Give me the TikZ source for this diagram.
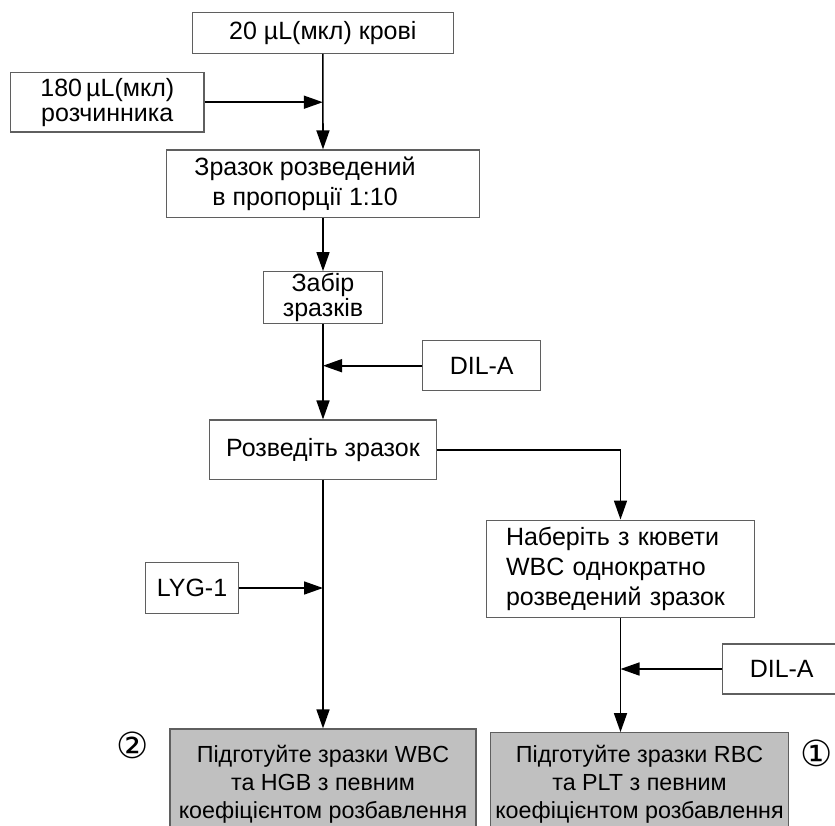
\documentclass[tikz,border=0pt]{standalone}
\usepackage{fontspec}
\setmainfont{Liberation Sans}
\newfontfamily\circfont{DejaVu Sans}
\usetikzlibrary{arrows.meta,calc}
\definecolor{ink}{RGB}{0,0,0}
\definecolor{edge}{RGB}{95,95,95}
\definecolor{prepfill}{RGB}{192,192,192}
\tikzset{
  box/.style={
    draw=edge, line width=1.2pt, fill=white, inner sep=0pt,
    align=center, font=\fontsize{25}{#1}\selectfont,
  },
  box/.default=28,
  prep/.style={box, fill=prepfill, font=\fontsize{23.3}{28}\selectfont},
  arr/.style={-{Triangle[length=19pt,width=13pt]}, line width=1.6pt, draw=ink},
  circnum/.style={font=\circfont\fontsize{36}{36}\selectfont, inner sep=0pt},
}
\begin{document}
\begin{tikzpicture}[x=1pt,y=-1pt]
  \useasboundingbox (0,0) rectangle (835,825);
  \clip (0,0) rectangle (835,825);

  % Main column
  \node[box, minimum width=261pt, minimum height=41pt] (blood) at (322.8,32.8) {20 µL(мкл) крові};
  \node[box=25, minimum width=193.3pt, minimum height=59.7pt] (solv) at (107.3,102.2) {180\,µL(мкл)\\розчинника};
  \node[box=30, minimum width=312.6pt, minimum height=67.7pt] (dil) at (323,183.8) {Зразок розведений\hspace*{36pt}\\в пропорції 1:10\hspace*{36pt}};
  \node[box=22, minimum width=119.4pt, minimum height=51.6pt] (sample) at (323,297.5) {Забір\\зразків};
  \node[box, minimum width=118pt, minimum height=50pt] (dila) at (481.7,365.7) {DIL-A};
  \node[box, minimum width=227.4pt, minimum height=59.3pt] (dilute) at (323,449.7) {Розведіть зразок};
  \node[box, minimum width=92.6pt, minimum height=50.6pt] (lyg) at (192,588) {LYG-1};

  % Right branch
  \node[box=30, minimum width=267.6pt, minimum height=97.7pt, text width=229pt, align=left] (take) at (620.5,569) {Наберіть з кювети\\WBC однократно\\розведений зразок};
  \node[box, minimum width=118pt, minimum height=50pt] (dilb) at (781.7,669) {DIL-A};

  % Prepared samples
  \node[prep, minimum width=306pt, minimum height=110pt] (wbc) at (323,784) {Підготуйте зразки WBC\\та HGB з певним\\коефіцієнтом розбавлення};
  \node[prep, minimum width=297.6pt, minimum height=102.6pt] (rbc) at (639.5,784) {Підготуйте зразки RBC\\та PLT з певним\\коефіцієнтом розбавлення};
  \node[circnum] (no2) at (132.3,745.7) {②};
  \node[circnum] (no1) at (817,753.3) {①};

  % Connectors
  \draw[arr] (blood.south) -- (dil.north);
  \draw[arr] (solv.east) -- (blood.south |- solv.east);
  \draw[arr] (dil.south) -- (sample.north);
  \draw[arr] (sample.south) -- (dilute.north);
  \draw[arr] (dila.west) -- (sample.south |- dila.west);
  \draw[arr] (dilute.south) -- (wbc.north);
  \draw[arr] (lyg.east) -- (dilute.south |- lyg.east);
  \draw[arr] (dilute.east) -| (take.north);
  \draw[arr] (take.south) -- (take.south |- rbc.north);
  \draw[arr] (dilb.west) -- (take.south |- dilb.west);
\end{tikzpicture}
\end{document}
